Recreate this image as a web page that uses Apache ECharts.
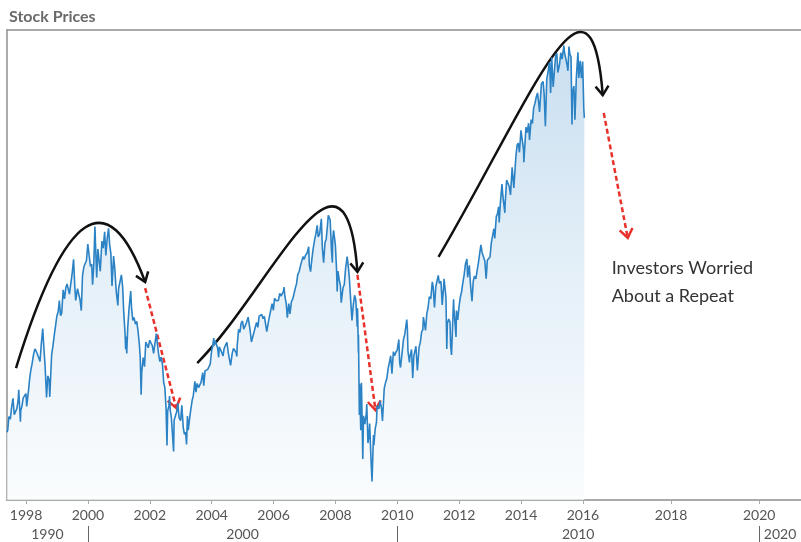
<!DOCTYPE html>
<html>
<head>
<meta charset="utf-8">
<script src="https://cdn.jsdelivr.net/npm/echarts@6/dist/echarts.min.js"></script>
<style>
  html, body { margin: 0; padding: 0; background: #ffffff; }
  #chart { width: 801px; height: 542px; }
</style>
</head>
<body>
<div id="chart"></div>
<script>
// ---------------- DATA ----------------
const chartTitle = 'Stock Prices';
const dates = [
'1997-05-20','1997-05-30','1997-06-13','1997-06-30','1997-07-15','1997-07-31','1997-08-15','1997-08-29','1997-09-15','1997-09-30',
'1997-10-07','1997-10-27','1997-10-31','1997-11-14','1997-11-28','1997-12-15','1997-12-31',
'1998-01-09','1998-01-30','1998-02-13','1998-02-27','1998-03-13','1998-03-31','1998-04-15','1998-04-30','1998-05-15','1998-05-29',
'1998-06-15','1998-06-30','1998-07-17','1998-07-31','1998-08-14','1998-08-31','1998-09-15','1998-09-30','1998-10-08','1998-10-30',
'1998-11-13','1998-11-30','1998-12-15','1998-12-31',
'1999-01-15','1999-01-29','1999-02-12','1999-02-26','1999-03-15','1999-03-31','1999-04-15','1999-04-30','1999-05-14','1999-05-28',
'1999-06-15','1999-06-30','1999-07-16','1999-07-30','1999-08-10','1999-08-31','1999-09-15','1999-09-30','1999-10-15','1999-10-29',
'1999-11-15','1999-11-30','1999-12-15','1999-12-31',
'2000-01-14','2000-01-31','2000-02-15','2000-02-25','2000-03-10','2000-03-24','2000-04-14','2000-04-28','2000-05-15','2000-05-26',
'2000-06-15','2000-06-30','2000-07-17','2000-07-31','2000-08-15','2000-09-01','2000-09-15','2000-09-29','2000-10-12','2000-10-31',
'2000-11-15','2000-11-30','2000-12-15','2000-12-20','2000-12-29',
'2001-01-15','2001-01-31','2001-02-15','2001-02-28','2001-03-15','2001-03-22','2001-03-30','2001-04-04','2001-04-16','2001-04-30',
'2001-05-21','2001-05-31','2001-06-15','2001-06-29','2001-07-16','2001-07-31','2001-08-15','2001-08-31','2001-09-10','2001-09-21',
'2001-09-28','2001-10-15','2001-10-31','2001-11-15','2001-11-30','2001-12-14','2001-12-31',
'2002-01-15','2002-01-31','2002-02-15','2002-02-28','2002-03-19','2002-03-28','2002-04-15','2002-04-30','2002-05-15','2002-05-31',
'2002-06-14','2002-06-28','2002-07-12','2002-07-23','2002-07-31','2002-08-15','2002-08-22','2002-08-30','2002-09-13','2002-09-30',
'2002-10-09','2002-10-15','2002-10-31','2002-11-15','2002-11-27','2002-12-13','2002-12-31',
'2003-01-14','2003-01-31','2003-02-14','2003-02-28','2003-03-11','2003-03-21','2003-03-31','2003-04-15','2003-04-30','2003-05-15',
'2003-05-30','2003-06-17','2003-06-30','2003-07-14','2003-07-31','2003-08-15','2003-08-29','2003-09-18','2003-09-30','2003-10-15',
'2003-10-31','2003-11-14','2003-11-28','2003-12-15','2003-12-31',
'2004-01-15','2004-01-26','2004-01-30','2004-02-13','2004-02-27','2004-03-12','2004-03-24','2004-03-31','2004-04-15','2004-04-30',
'2004-05-14','2004-05-28','2004-06-15','2004-06-30','2004-07-15','2004-07-30','2004-08-12','2004-08-31','2004-09-15','2004-09-30',
'2004-10-15','2004-10-25','2004-10-29','2004-11-15','2004-11-30','2004-12-15','2004-12-31',
'2005-01-14','2005-01-31','2005-02-15','2005-02-28','2005-03-07','2005-03-31','2005-04-15','2005-04-29','2005-05-13','2005-05-31',
'2005-06-15','2005-06-30','2005-07-15','2005-07-29','2005-08-15','2005-08-31','2005-09-15','2005-09-30','2005-10-13','2005-10-31',
'2005-11-15','2005-11-30','2005-12-15','2005-12-30',
'2006-01-13','2006-01-31','2006-02-15','2006-02-28','2006-03-15','2006-03-31','2006-04-13','2006-04-28','2006-05-05','2006-05-15',
'2006-05-31','2006-06-13','2006-06-30','2006-07-14','2006-07-31','2006-08-15','2006-08-31','2006-09-15','2006-09-29','2006-10-13',
'2006-10-31','2006-11-15','2006-11-30','2006-12-15','2006-12-29',
'2007-01-12','2007-01-31','2007-02-20','2007-02-27','2007-03-14','2007-03-30','2007-04-13','2007-04-30','2007-05-15','2007-05-31',
'2007-06-12','2007-06-29','2007-07-19','2007-07-31','2007-08-15','2007-08-31','2007-09-14','2007-09-28','2007-10-09','2007-10-31',
'2007-11-15','2007-11-26','2007-11-30','2007-12-10','2007-12-31',
'2008-01-15','2008-01-22','2008-01-31','2008-02-15','2008-02-29','2008-03-10','2008-03-31','2008-04-15','2008-04-30','2008-05-19',
'2008-05-30','2008-06-13','2008-06-30','2008-07-15','2008-07-31','2008-08-15','2008-08-29','2008-09-15','2008-09-19','2008-09-29',
'2008-09-30','2008-10-10','2008-10-13','2008-10-27','2008-10-31','2008-11-04','2008-11-20','2008-11-28','2008-12-15','2008-12-31',
'2009-01-06','2009-01-20','2009-01-30','2009-02-09','2009-02-27','2009-03-09','2009-03-26','2009-03-31','2009-04-15','2009-04-30',
'2009-05-08','2009-05-29','2009-06-12','2009-06-30','2009-07-10','2009-07-31','2009-08-14','2009-08-31','2009-09-15','2009-09-30',
'2009-10-15','2009-10-30','2009-11-16','2009-11-30','2009-12-15','2009-12-31',
'2010-01-19','2010-01-29','2010-02-08','2010-02-26','2010-03-15','2010-03-31','2010-04-23','2010-04-30','2010-05-07','2010-05-25',
'2010-05-28','2010-06-18','2010-07-02','2010-07-15','2010-07-30','2010-08-09','2010-08-26','2010-08-31','2010-09-15','2010-09-30',
'2010-10-15','2010-10-29','2010-11-05','2010-11-30','2010-12-15','2010-12-31',
'2011-01-14','2011-01-31','2011-02-18','2011-02-28','2011-03-16','2011-03-31','2011-04-15','2011-04-29','2011-05-13','2011-05-31',
'2011-06-15','2011-06-30','2011-07-07','2011-07-29','2011-08-08','2011-08-15','2011-08-31','2011-09-15','2011-09-22','2011-09-30',
'2011-10-03','2011-10-27','2011-10-31','2011-11-15','2011-11-25','2011-11-30','2011-12-15','2011-12-30',
'2012-01-13','2012-01-31','2012-02-15','2012-02-29','2012-03-15','2012-03-30','2012-04-02','2012-04-10','2012-04-30','2012-05-15',
'2012-06-01','2012-06-15','2012-06-29','2012-07-16','2012-07-31','2012-08-15','2012-08-31','2012-09-14','2012-09-28','2012-10-15',
'2012-10-31','2012-11-15','2012-11-30','2012-12-14','2012-12-31',
'2013-01-15','2013-01-31','2013-02-15','2013-02-25','2013-03-15','2013-03-28','2013-04-11','2013-04-18','2013-04-30','2013-05-21',
'2013-05-31','2013-06-14','2013-06-24','2013-06-28','2013-07-15','2013-07-31','2013-08-15','2013-08-30','2013-09-18','2013-09-30',
'2013-10-08','2013-10-31','2013-11-15','2013-11-29','2013-12-13','2013-12-31',
'2014-01-15','2014-01-31','2014-02-03','2014-02-28','2014-03-14','2014-03-31','2014-04-11','2014-04-30','2014-05-15','2014-05-30',
'2014-06-13','2014-06-30','2014-07-15','2014-07-31','2014-08-07','2014-08-29','2014-09-18','2014-09-30','2014-10-15','2014-10-31',
'2014-11-14','2014-11-28','2014-12-05','2014-12-16','2014-12-29',
'2015-01-15','2015-01-30','2015-02-13','2015-02-27','2015-03-11','2015-03-31','2015-04-15','2015-04-30','2015-05-21','2015-05-29',
'2015-06-15','2015-06-30','2015-07-08','2015-07-20','2015-07-31','2015-08-14','2015-08-25','2015-08-31','2015-09-16','2015-09-29',
'2015-10-15','2015-11-03','2015-11-13','2015-11-30','2015-12-14','2015-12-29',
'2016-01-08','2016-01-13'
];
const prices = [
841,848,893,885,925,954,900,899,920,947,
983,876,914,928,955,963,970,
927,980,1020,1049,1069,1101,1119,1112,1108,1091,
1077,1134,1187,1121,1063,957,1029,1017,959,1099,
1126,1164,1162,1229,
1243,1280,1230,1238,1316,1286,1322,1336,1337,1302,
1301,1373,1418,1329,1281,1320,1318,1283,1247,1362,
1394,1389,1414,1469,
1465,1394,1402,1333,1395,1527,1357,1452,1452,1378,
1479,1455,1510,1431,1484,1521,1466,1437,1329,1429,
1383,1315,1312,1264,1320,
1326,1366,1326,1240,1173,1118,1160,1104,1191,1249,
1312,1256,1214,1224,1202,1211,1179,1134,1093,966,
1041,1090,1060,1142,1139,1123,1148,
1139,1130,1104,1107,1170,1147,1102,1077,1092,1067,
1007,990,921,797,912,930,962,916,889,815,
777,881,886,910,938,889,880,
931,856,834,841,800,895,848,885,917,946,
964,1011,975,1004,990,990,1008,1040,996,1046,
1051,1050,1058,1068,1112,
1133,1155,1131,1146,1145,1121,1091,1126,1129,1107,
1095,1121,1133,1141,1107,1102,1064,1104,1121,1115,
1108,1094,1130,1184,1174,1205,1212,
1185,1181,1206,1204,1225,1181,1142,1157,1154,1192,
1207,1191,1228,1234,1234,1220,1228,1229,1177,1207,
1229,1249,1270,1248,
1288,1280,1280,1281,1304,1295,1289,1311,1325,1294,
1270,1223,1270,1236,1277,1285,1304,1322,1336,1366,
1378,1397,1401,1427,1418,
1431,1438,1460,1399,1377,1421,1452,1482,1502,1531,
1493,1503,1553,1455,1407,1474,1484,1527,1565,1549,
1452,1407,1481,1515,1468,
1381,1311,1379,1350,1331,1273,1323,1334,1386,1427,
1400,1360,1280,1214,1267,1298,1283,1193,1255,1106,
1166,899,1003,848,969,1006,752,896,868,903,
935,805,826,870,735,677,832,798,852,873,
930,919,946,919,879,987,1005,1021,1053,1057,
1096,1036,1110,1096,1108,1115,
1150,1074,1057,1104,1150,1169,1217,1187,1111,1074,
1089,1117,1022,1096,1102,1128,1047,1049,1125,1141,
1176,1183,1225,1181,1236,1258,
1293,1286,1343,1327,1257,1326,1320,1364,1338,1345,
1266,1321,1353,1292,1119,1204,1219,1209,1130,1131,
1099,1285,1253,1257,1159,1247,1216,1258,
1289,1312,1343,1366,1402,1408,1419,1358,1398,1330,
1278,1343,1362,1353,1379,1405,1407,1466,1441,1441,
1412,1353,1416,1414,1426,
1472,1498,1520,1488,1561,1569,1593,1541,1598,1669,
1631,1626,1573,1606,1682,1686,1661,1633,1725,1682,
1656,1757,1798,1806,1775,1848,
1848,1783,1742,1859,1841,1872,1816,1884,1871,1924,
1937,1960,1973,1931,1910,2003,2011,1972,1862,2018,
2040,2068,2075,1973,2091,
1993,1995,2097,2105,2041,2068,2107,2086,2131,2107,
2085,2063,2047,2128,2104,2092,1868,1972,1996,1884,
2023,2109,2023,2080,2022,2078,
1922,1890
];
const yearTicks = [1998, 2000, 2002, 2004, 2006, 2008, 2010, 2012, 2014, 2016, 2018, 2020];
const decadeStarts = [1990, 2000, 2010, 2020];
const decadeLabels = ['1990', '2000', '2010', '2020'];
// annotation anchors in (year, price)
const arcCurves = [
  [1997.676, 1055, 1999.262, 1586, 2000.654, 1679, 2001.851, 1342],
  [2003.534, 1072, 2005.896, 1316, 2008.323, 1916, 2008.712, 1376],
  [2011.333, 1426, 2014.310, 1950, 2016.177, 2483, 2016.450, 1966]
];
const dashArrows = [
  [2001.851, 1322, 2002.854, 922],
  [2008.712, 1366, 2009.294, 915],
  [2016.473, 1906, 2017.018, 1489]
];
const noteText = ['Investors Worried', 'About a Repeat'];
const notePos = [2016.653, 1436];

// ---------------- AXIS MAPPING ----------------
// the axis after the last data year is drawn wider
const breakYear = 2016, stretch = 1.424;
const xMinYear = 1997.385, xMaxYear = 2020.95;
function toAxis(y) { return y <= breakYear ? y : breakYear + (y - breakYear) * stretch; }
function fromAxis(u) { return u <= breakYear ? u : breakYear + (u - breakYear) / stretch; }
function decYear(s) {
  const y = +s.slice(0,4);
  const d = Date.UTC(y, +s.slice(5,7)-1, +s.slice(8,10));
  const a = Date.UTC(y,0,1), b = Date.UTC(y+1,0,1);
  return y + (d - a) / (b - a);
}
const axMin = toAxis(xMinYear), axMax = toAxis(xMaxYear);
const lineData = dates.map((d, i) => [toAxis(decYear(d)), prices[i]]);
const decadeCenters = decadeStarts.map(s => {
  const a = toAxis(Math.max(s, xMinYear)), b = toAxis(Math.min(s + 10, xMaxYear));
  return (a + b) / 2;
});

const FONT = 'Lato, "Open Sans", sans-serif';
const BORDER = '#8f8f8f';
const chart = echarts.init(document.getElementById('chart'), null, { renderer: 'canvas' });

function chevron(tip, from, len, half, color, width) {
  const dx = tip[0] - from[0], dy = tip[1] - from[1];
  const L = Math.sqrt(dx*dx + dy*dy) || 1;
  const ux = dx / L, uy = dy / L, nx = -uy, ny = ux;
  return {
    type: 'polyline',
    shape: { points: [
      [tip[0] - ux*len + nx*half, tip[1] - uy*len + ny*half],
      [tip[0], tip[1]],
      [tip[0] - ux*len - nx*half, tip[1] - uy*len - ny*half]
    ]},
    style: { stroke: color, lineWidth: width, fill: null, lineJoin: 'miter' }
  };
}

chart.setOption({
  animation: false,
  backgroundColor: '#ffffff',
  title: {
    text: chartTitle, left: 4, top: 4,
    textStyle: { fontFamily: FONT, fontSize: 16, fontWeight: 'bold', color: '#6a6a6a' }
  },
  grid: { left: 7, right: 0, top: 30, bottom: 42, show: false },
  xAxis: [
    {
      type: 'value', min: axMin, max: axMax, position: 'bottom',
      axisLine: { show: true, onZero: false, lineStyle: { color: BORDER, width: 1.5 } },
      axisTick: { show: true, customValues: yearTicks.map(toAxis), length: 4, lineStyle: { color: '#aaaaaa' } },
      axisLabel: {
        customValues: yearTicks.map(toAxis), margin: 8,
        formatter: v => String(Math.round(fromAxis(v))),
        fontFamily: FONT, fontSize: 14, color: '#555555'
      },
      splitLine: { show: false }
    },
    {
      type: 'value', min: axMin, max: axMax, position: 'bottom', offset: 26,
      axisLine: { show: false },
      axisTick: { show: true, customValues: decadeStarts.slice(1).map(toAxis), length: 16, lineStyle: { color: '#666666', width: 1 } },
      axisLabel: {
        customValues: decadeCenters, margin: 1,
        formatter: v => {
          let k = 0, best = Infinity;
          decadeCenters.forEach((c, i) => { if (Math.abs(c - v) < best) { best = Math.abs(c - v); k = i; } });
          return decadeLabels[k];
        },
        fontFamily: FONT, fontSize: 14, color: '#555555'
      },
      splitLine: { show: false }
    },
    {
      type: 'value', min: axMin, max: axMax, position: 'top',
      axisLine: { show: true, onZero: false, lineStyle: { color: BORDER, width: 1.5 } },
      axisTick: { show: false }, axisLabel: { show: false }, splitLine: { show: false }
    }
  ],
  yAxis: {
    type: 'value', min: 615, max: 2183, position: 'left',
    axisLine: { show: true, onZero: false, lineStyle: { color: BORDER, width: 1.5 } },
    axisTick: { show: false }, axisLabel: { show: false }, splitLine: { show: false }
  },
  series: [
    {
      type: 'line', xAxisIndex: 0, data: lineData, showSymbol: false, symbol: 'none',
      lineStyle: { color: '#2b82c4', width: 1.6 },
      areaStyle: {
        color: new echarts.graphic.LinearGradient(0, 0, 0, 1, [
          { offset: 0, color: '#b2d1ea' },
          { offset: 0.5, color: '#d9e9f5' },
          { offset: 1, color: '#f8fbfd' }
        ])
      },
      silent: true
    },
    {
      type: 'custom', xAxisIndex: 0, silent: true, clip: false,
      data: arcCurves.map(a => [toAxis(a[0]), a[1], toAxis(a[2]), a[3], toAxis(a[4]), a[5], toAxis(a[6]), a[7]]),
      encode: { x: 0, y: 1 },
      renderItem: (params, api) => {
        const p = [0,1,2,3].map(k => api.coord([api.value(2*k), api.value(2*k+1)]));
        return { type: 'group', children: [
          { type: 'bezierCurve',
            shape: { x1: p[0][0], y1: p[0][1], cpx1: p[1][0], cpy1: p[1][1], cpx2: p[2][0], cpy2: p[2][1], x2: p[3][0], y2: p[3][1] },
            style: { stroke: '#111111', lineWidth: 2.5, fill: null } },
          chevron(p[3], p[2], 9, 6.5, '#111111', 2.5)
        ]};
      }
    },
    {
      type: 'custom', xAxisIndex: 0, silent: true, clip: false,
      data: dashArrows.map(a => [toAxis(a[0]), a[1], toAxis(a[2]), a[3]]),
      encode: { x: 0, y: 1 },
      renderItem: (params, api) => {
        const a = api.coord([api.value(0), api.value(1)]);
        const b = api.coord([api.value(2), api.value(3)]);
        return { type: 'group', children: [
          { type: 'line', shape: { x1: a[0], y1: a[1], x2: b[0], y2: b[1] },
            style: { stroke: '#e8312b', lineWidth: 2.5, lineDash: [5, 3] } },
          chevron(b, a, 9, 6.5, '#e8312b', 2.5)
        ]};
      }
    },
    {
      type: 'custom', xAxisIndex: 0, silent: true, clip: false,
      data: [[toAxis(notePos[0]), notePos[1]]],
      renderItem: (params, api) => {
        const p = api.coord([api.value(0), api.value(1)]);
        return { type: 'text', x: p[0], y: p[1],
          style: { text: noteText.join('\n'), fill: '#333333', fontFamily: FONT, fontSize: 18,
                   lineHeight: 28, align: 'left', verticalAlign: 'top' } };
      }
    }
  ]
});
</script>
</body>
</html>
